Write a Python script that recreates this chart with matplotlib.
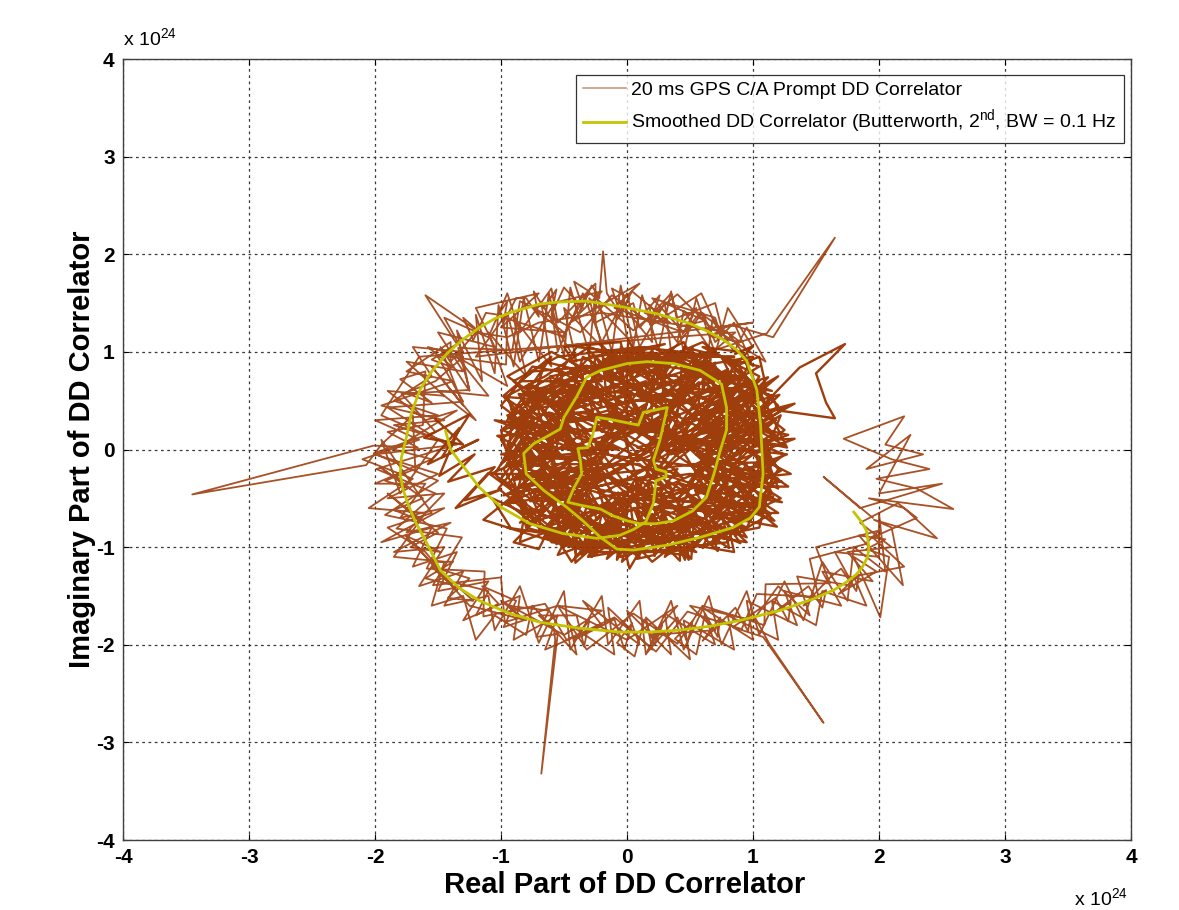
import numpy as np
import matplotlib
matplotlib.use("Agg")
import matplotlib.pyplot as plt
from matplotlib.lines import Line2D

plt.rcParams['font.family'] = ['Liberation Sans', 'DejaVu Sans']

# ---------------- data (units of 1e24) ----------------
smooth_pts = [
    (-1.44, 0.19), (-1.40, 0.00), (-1.33, -0.12), (-1.17, -0.39), (-1.00, -0.59),
    (-0.77, -0.76), (-0.51, -0.86), (-0.24, -0.91), (-0.06, -0.88), (0.05, -0.82),
    (0.15, -0.74), (0.21, -0.55), (0.23, -0.32), (0.31, -0.28), (0.31, -0.23),
    (0.23, -0.20), (0.21, -0.11), (0.26, 0.09), (0.29, 0.26), (0.32, 0.43),
    (0.13, 0.38), (0.09, 0.25), (-0.14, 0.31), (-0.24, 0.33), (-0.27, 0.16),
    (-0.31, 0.02), (-0.39, 0.01), (-0.37, -0.11), (-0.36, -0.25), (-0.42, -0.39),
    (-0.47, -0.54), (-0.37, -0.57), (-0.21, -0.61), (-0.11, -0.68), (0.00, -0.73),
    (0.10, -0.76), (0.23, -0.76), (0.37, -0.73), (0.52, -0.63), (0.63, -0.49),
    (0.69, -0.25), (0.74, -0.01), (0.79, 0.20), (0.79, 0.43), (0.75, 0.67),
    (0.58, 0.81), (0.37, 0.88), (0.16, 0.90), (0.00, 0.88), (-0.21, 0.81),
    (-0.32, 0.74), (-0.40, 0.54), (-0.50, 0.33), (-0.53, 0.21), (-0.64, 0.13),
    (-0.74, 0.06), (-0.82, -0.04), (-0.80, -0.25), (-0.66, -0.42), (-0.48, -0.59),
    (-0.35, -0.73), (-0.21, -0.90), (-0.08, -1.02), (0.05, -1.03), (0.32, -0.98),
    (0.58, -0.90), (0.84, -0.80), (0.98, -0.70), (1.05, -0.59), (1.08, -0.25),
    (1.07, 0.00), (1.06, 0.26), (1.03, 0.61), (0.95, 0.91), (0.87, 1.02),
    (0.77, 1.12), (0.64, 1.21), (0.50, 1.29), (0.24, 1.39), (-0.03, 1.46),
    (-0.32, 1.52), (-0.55, 1.51), (-0.69, 1.49), (-0.91, 1.41), (-1.05, 1.34),
    (-1.17, 1.25), (-1.31, 1.12), (-1.43, 0.98), (-1.55, 0.80), (-1.64, 0.62),
    (-1.71, 0.38), (-1.75, 0.13), (-1.79, -0.08), (-1.80, -0.25), (-1.78, -0.40),
    (-1.74, -0.55), (-1.68, -0.74), (-1.60, -0.93), (-1.48, -1.24), (-1.33, -1.42),
    (-1.17, -1.55), (-0.93, -1.68), (-0.69, -1.77), (-0.38, -1.83), (-0.06, -1.87),
    (0.18, -1.87), (0.42, -1.85), (0.66, -1.81), (0.90, -1.75), (1.21, -1.65),
    (1.48, -1.53), (1.64, -1.44), (1.74, -1.36), (1.82, -1.28), (1.87, -1.20),
    (1.91, -1.10), (1.92, -1.00), (1.90, -0.83), (1.86, -0.74), (1.80, -0.64),
]

trace_inner_arm = [
    (-1.52, 0.31), (-1.30, 0.05), (-1.61, 0.12), (-1.25, 0.36), (-1.47, -0.08),
    (-1.18, 0.10), (-1.58, -0.15), (-1.33, 0.22), (-1.49, -0.27), (-1.21, -0.05),
    (-1.42, -0.33), (-1.05, -0.18), (-1.29, -0.52), (-1.00, -0.41), (-1.36, -0.60),
    (-1.10, -0.24), (-0.88, -0.45), (-1.14, -0.72), (-0.92, -0.81), (-1.07, -0.50),
    (-0.80, -0.66), (-0.63, -0.60), (-0.90, -0.95), (-0.70, -1.02), (-0.58, -0.71),
    (-0.84, -0.58), (-0.61, -0.93), (-0.40, -0.70), (-0.55, -1.08), (-0.36, -0.99),
    (-0.62, -0.78), (-0.44, -1.15), (-0.15, -0.72), (-0.31, -1.10), (-0.09, -1.05),
    (-0.28, -0.76), (-0.12, -0.95), (0.03, -1.06), (-0.02, -0.70), (0.18, -0.92),
    (0.08, -0.61), (0.27, -0.83), (0.12, -0.58),
]

trace_core_a = [
    (1.27, -0.05), (0.66, 0.04), (1.06, 0.27), (0.42, 0.12), (1.05, 0.70), (0.57, 0.46),
    (0.57, 0.69), (0.27, 0.35), (0.31, 0.98), (0.12, 0.54), (-0.06, 0.93), (0.02, 0.22),
    (-0.36, 0.73), (-0.27, 0.39), (-0.78, 0.67), (-0.31, 0.19), (-0.84, 0.28), (-0.57, 0.07),
    (-1.00, -0.05), (-0.27, -0.12), (-0.80, -0.37), (-0.36, -0.31), (-0.80, -0.78), (-0.30, -0.52),
    (-0.42, -0.94), (-0.02, -0.43), (-0.08, -1.13), (0.12, -0.72), (0.29, -0.99), (0.29, -0.50),
    (0.72, -1.04), (0.60, -0.60), (0.96, -0.72), (0.51, -0.26), (1.11, -0.39), (0.71, -0.15),
]

trace_core_b = [
    (0.37, -0.03), (1.04, 0.18), (0.66, 0.19), (1.10, 0.60), (0.40, 0.22), (0.61, 0.61),
    (0.59, 0.90), (0.20, 0.23), (0.19, 0.66), (0.01, 1.13), (-0.01, 0.41), (-0.26, 0.72),
    (-0.08, 0.22), (-0.59, 0.62), (-0.41, 0.30), (-0.92, 0.41), (-0.07, 0.00), (-0.76, 0.02),
    (-0.43, -0.10), (-0.89, -0.31), (-0.15, -0.17), (-0.63, -0.55), (-0.30, -0.45), (-0.56, -0.97),
    (-0.07, -0.44), (-0.13, -0.92), (0.10, -0.29), (0.22, -1.09), (0.28, -0.62), (0.50, -0.83),
    (0.32, -0.32), (0.93, -0.82), (0.69, -0.43), (1.23, -0.54), (0.51, -0.15), (1.12, -0.13),
]

trace_core_c = [
    (0.90, -0.10), (1.33, 0.11), (0.57, 0.06), (1.01, 0.40), (0.22, -0.01), (0.68, 0.56),
    (0.70, 0.89), (0.31, 0.44), (0.27, 0.84), (0.10, 0.28), (-0.10, 0.98), (-0.14, 0.53),
    (-0.45, 0.81), (-0.09, 0.12), (-0.63, 0.48), (-0.42, 0.19), (-1.05, 0.30), (-0.34, -0.03),
    (-0.85, -0.10), (-0.54, -0.21), (-0.98, -0.47), (-0.20, -0.27), (-0.55, -0.62), (-0.54, -0.83),
    (-0.18, -0.55), (-0.28, -1.10), (0.07, -0.29), (0.10, -0.96), (0.19, -0.57), (0.49, -1.13),
    (0.45, -0.68), (0.78, -0.86), (0.41, -0.34), (1.12, -0.66), (0.66, -0.30), (1.16, -0.28),
]

trace_core_d = [
    (1.25, 0.04), (0.83, 0.12), (1.33, 0.47), (0.52, 0.20), (0.82, 0.59), (0.27, 0.11),
    (0.64, 0.94), (0.36, 0.68), (0.24, 0.90), (0.12, 0.28), (-0.15, 1.01), (-0.08, 0.42),
    (-0.40, 0.69), (-0.13, 0.22), (-0.83, 0.60), (-0.53, 0.25), (-0.86, 0.21), (-0.15, -0.03),
    (-0.95, -0.14), (-0.43, -0.20), (-0.71, -0.43), (-0.18, -0.27), (-0.63, -0.79), (-0.28, -0.63),
    (-0.36, -1.08), (0.02, -0.51), (0.07, -0.95), (0.18, -0.33), (0.46, -1.13), (0.43, -0.61),
    (0.72, -0.83), (0.54, -0.42), (1.17, -0.73), (0.88, -0.37), (1.23, -0.33), (0.65, -0.09),
]

trace_core_e = [
    (0.85, -0.05), (1.28, 0.15), (0.95, 0.24), (1.21, 0.56), (0.60, 0.35), (0.81, 0.75),
    (0.53, 0.65), (0.52, 1.04), (0.22, 0.61), (0.10, 0.95), (-0.04, 0.70), (-0.31, 1.02),
    (-0.20, 0.44), (-0.61, 0.75), (-0.59, 0.50), (-0.98, 0.54), (-0.56, 0.18), (-1.03, 0.14),
    (-0.75, -0.05), (-1.08, -0.25), (-0.46, -0.25), (-0.77, -0.53), (-0.47, -0.51), (-0.67, -0.92),
    (-0.30, -0.71), (-0.29, -1.08), (-0.01, -0.66), (0.10, -1.08), (0.23, -0.72), (0.51, -1.12),
    (0.53, -0.75), (0.90, -0.96), (0.64, -0.48), (1.10, -0.60), (0.85, -0.31), (1.30, -0.25),
]

trace_core_f = [
    (1.27, 0.02), (0.89, 0.12), (1.25, 0.42), (0.61, 0.25), (0.86, 0.63), (0.64, 0.62),
    (0.67, 1.04), (0.30, 0.56), (0.22, 0.96), (0.05, 0.72), (-0.20, 1.07), (-0.16, 0.48),
    (-0.54, 0.82), (-0.45, 0.46), (-0.86, 0.57), (-0.74, 0.30), (-0.99, 0.20), (-0.58, -0.02),
    (-0.93, -0.17), (-0.70, -0.29), (-0.97, -0.56), (-0.41, -0.43), (-0.66, -0.82), (-0.40, -0.78),
    (-0.41, -1.16), (-0.07, -0.77), (0.02, -1.22), (0.19, -0.84), (0.42, -1.14), (0.42, -0.68),
    (0.81, -1.01), (0.76, -0.69), (1.19, -0.79), (0.80, -0.38), (1.28, -0.38), (1.02, -0.15),
]

trace_core_g = [
    (0.30, 0.20), (-0.20, 0.62), (0.52, 0.70), (0.08, -0.12), (0.82, 0.30), (0.40, -0.52),
    (-0.30, -0.22), (0.02, 0.50), (-0.62, 0.30), (-0.10, -0.62), (0.62, -0.20), (0.92, -0.62),
    (0.22, -0.92), (-0.50, -0.70), (-0.82, -0.20), (-0.40, 0.12), (-0.70, 0.62), (0.00, 0.92),
    (0.60, 0.95), (1.02, 0.50), (0.70, 0.02), (1.12, -0.30), (0.50, -0.90), (-0.10, -1.02),
    (-0.60, -0.95), (-0.30, -0.40), (0.20, 0.00), (-0.20, 0.30), (0.40, 0.45), (0.90, 0.75),
    (0.30, 0.85), (-0.40, 0.85), (-0.90, 0.40), (-0.95, -0.10), (-0.60, -0.50), (0.00, -0.30),
    (0.50, 0.10), (1.15, 0.05), (0.85, -0.85), (0.10, -0.55), (-0.25, 0.05), (0.15, 0.35),
    (0.65, 0.55), (1.05, 0.85), (0.45, 1.05),
]

trace_core_h = [
    (0.05, 0.72), (-0.55, 0.48), (-0.15, -0.05), (0.35, -0.28), (0.75, -0.45), (0.25, -0.70),
    (-0.35, -0.85), (-0.72, -0.42), (-0.45, -0.12), (-0.85, 0.15), (-0.35, 0.45), (0.20, 0.60),
    (0.70, 0.85), (0.95, 0.20), (0.55, -0.05), (0.98, -0.35), (0.60, -0.72), (0.05, -0.82),
    (-0.20, -0.45), (0.15, -0.20), (0.45, 0.30), (0.80, 0.55), (0.35, 1.00), (-0.15, 0.88),
    (-0.60, 0.75), (-0.85, 0.55), (-0.55, 0.10), (-0.95, -0.35), (-0.70, -0.80), (-0.25, -1.05),
    (0.35, -1.05), (0.70, -0.95), (1.10, -0.55), (0.80, -0.10), (1.18, 0.30), (0.90, 0.60),
    (0.50, 0.62), (0.10, 0.15), (-0.30, 0.68), (-0.10, 1.00), (0.25, 0.40), (0.60, -0.35),
    (0.28, -0.50), (-0.05, -0.15), (-0.50, -0.30),
]

trace_core_i = [
    (-0.75, 0.05), (-0.40, -0.55), (0.10, -0.40), (-0.05, 0.25), (0.40, 0.02), (0.70, 0.40),
    (1.05, 0.10), (0.78, -0.25), (0.45, -0.75), (-0.05, -0.95), (-0.45, -0.95), (-0.80, -0.60),
    (-0.98, -0.20), (-0.62, 0.45), (-0.30, 0.95), (0.20, 1.05), (0.55, 0.80), (0.25, 0.25),
    (-0.35, 0.20), (-0.10, -0.35), (0.55, -0.55), (0.95, -0.80), (1.20, -0.20), (0.88, 0.40),
    (0.42, 0.62), (-0.08, 0.45), (-0.55, 0.72), (-0.80, 0.30), (-0.30, -0.05), (0.00, -0.70),
    (0.35, -0.92), (0.80, -0.55), (0.50, -0.15), (0.18, 0.12), (0.62, 0.22), (1.00, 0.65),
    (0.70, 1.00), (0.05, 0.85), (-0.45, 0.60), (-0.68, -0.15), (-0.25, -0.62), (0.30, -0.38),
    (0.02, 0.05), (-0.15, 0.50), (0.30, 0.75),
]

trace_core_j = [
    (0.85, 0.92), (1.10, 0.45), (0.65, -0.05), (0.95, -0.50), (0.40, -0.35), (0.15, -0.78),
    (-0.30, -0.55), (-0.65, -0.70), (-0.92, -0.45), (-0.55, -0.05), (-0.88, 0.28), (-0.50, 0.60),
    (-0.10, 0.78), (0.40, 0.92), (0.75, 0.62), (0.45, 0.20), (0.05, -0.05), (-0.35, -0.30),
    (-0.05, -1.00), (0.45, -1.08), (0.75, -0.70), (1.15, -0.45), (1.00, 0.00), (0.60, 0.45),
    (0.15, 0.55), (-0.25, 0.85), (-0.75, 0.80), (-0.98, 0.55), (-0.70, 0.15), (-0.20, 0.20),
    (0.30, -0.10), (0.10, -0.45), (-0.45, -0.78), (-0.85, -0.05), (-0.40, 0.38), (0.10, 0.30),
    (0.55, 0.55), (0.95, 0.35), (0.70, -0.40), (0.20, -0.60), (-0.15, -0.25), (0.25, 0.05),
    (0.80, 0.10), (0.35, 0.65), (-0.05, 1.05),
]

trace_core_k = [
    (-0.60, 1.00), (-0.95, 0.75), (-0.45, 0.30), (0.05, 0.40), (-0.25, -0.15), (-0.65, -0.30),
    (-0.35, -0.70), (0.15, -0.95), (0.60, -0.85), (0.90, -0.30), (0.50, -0.25), (0.20, -0.30),
    (0.55, 0.35), (0.95, 0.55), (1.15, 0.15), (0.75, -0.15), (0.30, 0.15), (-0.05, 0.60),
    (0.45, 0.80), (0.80, 0.75), (0.25, 0.95), (-0.40, 1.05), (-0.70, 0.45), (-1.00, 0.10),
    (-0.80, -0.35), (-0.40, -1.00), (0.05, -0.60), (0.40, -0.60), (1.00, -0.70), (0.65, -0.50),
    (0.30, -0.85), (-0.20, -0.80), (-0.55, -0.45), (-0.15, 0.05), (0.35, 0.40), (0.00, 0.70),
    (-0.35, 0.55), (-0.80, 0.65), (-0.60, 0.25), (-0.10, 0.35), (0.40, -0.05), (0.85, 0.30),
    (1.05, 0.75), (0.60, 1.05), (0.90, 1.00),
]

trace_core_l = [
    (1.10, -0.05), (0.75, 0.70), (1.15, 0.60), (0.40, 0.95), (0.85, 0.95), (-0.05, 0.95),
    (0.30, 1.08), (-0.45, 0.90), (-0.20, 0.70), (-0.85, 0.70), (-0.60, 0.95), (-0.95, 0.30),
    (-0.70, 0.55), (-1.00, -0.15), (-0.75, 0.10), (-0.90, -0.55), (-0.65, -0.20), (-0.70, -0.85),
    (-0.95, -0.80), (-0.30, -1.05), (-0.55, -0.60), (0.10, -1.10), (-0.15, -0.85), (0.55, -1.05),
    (0.30, -0.80), (0.95, -0.95), (0.70, -0.65), (1.20, -0.65), (0.90, -0.40), (1.25, -0.05),
    (0.95, 0.10), (1.20, 0.45), (0.90, 0.80), (0.60, 1.10), (0.15, 0.85), (-0.30, 1.05),
    (-0.65, 0.75), (-0.95, 0.55), (-0.80, -0.05), (-1.02, -0.40), (-0.50, -0.95), (0.05, -0.95),
    (0.65, -0.90), (1.05, -0.80), (1.15, -0.30),
]

trace_core_m = [
    (0.95, 0.50), (1.25, 0.20), (0.85, -0.20), (1.22, -0.50), (0.80, -0.75), (0.85, -1.05),
    (0.40, -0.95), (0.20, -1.15), (-0.10, -0.75), (-0.40, -1.10), (-0.45, -0.75), (-0.85, -0.95),
    (-0.80, -0.55), (-1.05, -0.25), (-0.80, 0.25), (-1.00, 0.45), (-0.75, 0.85), (-0.35, 0.75),
    (-0.50, 1.05), (-0.05, 1.10), (0.00, 0.80), (0.45, 1.10), (0.55, 0.85), (1.00, 0.95),
    (0.80, 0.45), (1.20, 0.75), (0.70, 0.20), (0.30, -0.20), (-0.20, 0.10), (0.15, 0.70),
    (-0.55, 0.40), (-0.25, -0.40), (0.45, -0.60), (0.10, -0.15), (-0.60, -0.15), (-0.35, 0.95),
    (0.25, 0.50), (0.70, -0.25), (0.40, 0.30), (-0.15, -0.95), (-0.70, -0.65), (-0.95, 0.05),
    (-0.65, 0.60), (0.05, 1.00), (0.65, 0.95),
]

trace_core_n = [
    (-0.85, -0.75), (-0.20, -0.20), (0.60, 0.70), (1.10, 0.20), (0.20, -0.70), (-0.55, 0.20),
    (-0.15, 0.95), (0.75, 0.30), (0.30, -0.95), (-0.75, -0.35), (0.05, 0.25), (0.95, -0.15),
    (0.55, -0.95), (-0.35, -0.80), (-0.95, 0.35), (-0.25, 0.55), (0.45, 0.05), (1.20, -0.40),
    (0.85, 0.80), (0.10, 0.65), (-0.65, 0.90), (-0.90, -0.15), (-0.10, -0.50), (0.70, -0.55),
    (1.15, 0.55), (0.35, 0.90), (-0.45, 0.45), (-0.05, -1.10), (0.90, -0.70), (0.60, 0.10),
    (-0.30, 0.30), (-0.75, 0.60), (-0.50, -0.45), (0.25, -0.25), (0.95, 0.70), (0.50, 0.40),
    (-0.10, 0.10), (-0.60, -0.90), (0.15, -1.05), (0.80, -0.95),
]

trace_core_o = [
    (1.22, 0.35), (0.55, -0.15), (0.95, -0.90), (0.05, -0.40), (-0.50, -1.00), (-0.95, -0.55),
    (-0.40, -0.25), (-0.85, 0.45), (-0.30, 0.80), (0.50, 1.00), (0.90, 0.45), (0.35, -0.05),
    (-0.15, 0.40), (-0.70, 0.20), (-1.00, -0.30), (-0.60, -0.65), (0.00, -0.85), (0.65, -0.75),
    (1.15, -0.10), (0.75, 0.95), (0.10, 1.05), (-0.55, 0.95), (-0.90, 0.70), (-0.40, 0.05),
    (0.25, 0.30), (0.80, -0.35), (0.40, -0.80), (-0.25, -1.00), (-0.80, -0.80), (-1.00, 0.20),
    (-0.50, 0.65), (0.15, 0.55), (0.70, 0.60), (1.05, 0.30), (0.45, -0.40), (-0.20, -0.60),
    (-0.70, -0.10), (-0.20, 0.85), (0.40, 0.75), (1.00, -0.55),
]

trace_core = [
    (0.35, -0.60), (0.09, -0.45), (0.30, -0.38), (0.14, -0.66), (0.40, -0.20),
    (0.12, -0.30), (0.36, -0.41), (0.19, -0.14), (0.44, -0.29), (0.25, -0.05),
    (0.08, 0.02), (0.38, 0.12), (0.15, -0.20), (0.33, 0.24), (0.11, 0.15),
    (0.42, 0.35), (0.20, 0.52), (0.45, 0.58), (0.24, 0.30), (0.38, 0.49),
    (0.05, 0.50), (0.18, 0.22), (-0.02, 0.33), (0.14, 0.46), (0.00, 0.14),
    (-0.10, 0.45), (-0.20, 0.18), (-0.33, 0.42), (-0.15, 0.26), (-0.29, 0.21),
    (-0.40, 0.12), (-0.18, 0.05), (-0.45, -0.08), (-0.24, -0.04), (-0.50, 0.10),
    (-0.33, -0.13), (-0.26, -0.20), (-0.49, -0.30), (-0.30, -0.36), (-0.47, -0.18),
    (-0.22, -0.31), (-0.56, -0.45), (-0.35, -0.50), (-0.58, -0.62), (-0.40, -0.66),
    (-0.53, -0.37), (-0.30, -0.48), (-0.24, -0.72), (-0.15, -0.55), (-0.05, -0.80),
    (-0.18, -0.64), (0.06, -0.62), (0.14, -0.87), (0.20, -0.66), (0.31, -0.90),
    (0.27, -0.69), (0.44, -0.85), (0.40, -0.60), (0.58, -0.76), (0.50, -0.50),
    (0.64, -0.68), (0.74, -0.55), (0.55, -0.40), (0.72, -0.36), (0.60, -0.58),
    (0.81, -0.30), (0.58, -0.18), (0.79, -0.12), (0.62, -0.32), (0.85, -0.20),
    (0.63, 0.05), (0.88, 0.04), (0.70, -0.10), (0.86, 0.15), (0.65, 0.12),
    (0.92, 0.24), (0.68, 0.30), (0.90, 0.36), (0.72, 0.18), (0.95, 0.30),
    (0.67, 0.48), (0.91, 0.52), (0.70, 0.38), (0.88, 0.62), (0.66, 0.58),
    (0.86, 0.74), (0.63, 0.72), (0.80, 0.82), (0.60, 0.64), (0.66, 0.92),
    (0.50, 0.72), (0.55, 0.95), (0.44, 0.80), (0.62, 0.86), (0.40, 1.00),
    (0.30, 0.77), (0.34, 0.98), (0.25, 0.82), (0.20, 1.02), (0.09, 0.80),
    (0.14, 1.05), (0.04, 0.86), (0.22, 0.95), (-0.06, 1.01), (-0.03, 0.76),
    (-0.12, 0.96), (0.05, 0.78), (-0.18, 0.93), (-0.28, 0.71), (-0.25, 0.95),
    (-0.14, 0.70), (-0.32, 0.86), (-0.42, 0.80), (-0.24, 0.62), (-0.45, 0.66),
    (-0.30, 0.58), (-0.52, 0.60), (-0.31, 0.45), (-0.49, 0.43), (-0.36, 0.66),
    (-0.55, 0.50), (-0.40, 0.30), (-0.62, 0.38), (-0.45, 0.19), (-0.64, 0.24),
    (-0.42, 0.10), (-0.70, 0.20), (-0.58, 0.02), (-0.80, 0.14), (-0.66, -0.04),
    (-0.85, 0.08), (-0.92, -0.06), (-0.72, -0.10), (-0.88, 0.02), (-0.75, -0.18),
    (-0.91, -0.30), (-0.70, -0.22), (-0.87, -0.40), (-0.68, -0.35), (-0.76, -0.52),
    (-0.58, -0.33), (-0.72, -0.36), (-0.55, -0.50), (-0.60, -0.65), (-0.42, -0.48),
    (-0.56, -0.72), (-0.38, -0.62), (-0.45, -0.85), (-0.27, -0.66), (-0.42, -0.78),
    (-0.24, -0.82), (-0.30, -0.98), (-0.14, -0.82), (-0.26, -1.08), (-0.10, -0.93),
    (-0.16, -1.12), (0.00, -0.94), (-0.04, -1.15), (0.12, -0.96), (0.08, -1.12),
    (0.22, -1.08), (0.36, -0.88), (0.30, -1.10), (0.45, -0.95), (0.52, -1.02),
    (0.66, -0.82), (0.60, -1.01), (0.72, -0.90), (0.80, -0.92), (0.92, -0.70),
    (0.86, -0.88), (0.98, -0.78), (1.14, -0.66), (0.98, -0.50), (1.16, -0.48),
    (0.96, -0.62), (1.20, -0.30), (0.97, -0.20), (1.18, -0.12), (1.00, -0.35),
    (1.22, -0.22), (0.96, 0.15), (1.18, 0.30), (0.99, 0.38), (1.20, 0.12),
    (0.95, 0.28), (1.37, 0.84), (1.73, 1.08), (1.50, 0.78), (1.58, 0.48),
    (1.65, 0.32), (1.20, 0.40), (1.15, 0.55), (0.92, 0.66), (1.12, 0.74),
    (0.94, 0.50), (1.10, 0.66), (1.05, 0.95), (0.85, 0.85), (1.00, 1.06),
    (0.86, 0.98),
]

trace_top_band = [
    (1.00, 1.05), (0.80, 1.45), (0.70, 0.98), (0.55, 1.55), (0.45, 1.00), (0.35, 1.62),
    (0.25, 1.02), (0.12, 1.58), (0.05, 1.05), (-0.05, 1.68), (-0.12, 1.00), (-0.25, 1.62),
    (-0.30, 0.98), (-0.45, 1.66), (-0.50, 0.95), (-0.62, 1.60), (-0.70, 0.90), (-0.82, 1.55),
    (-0.90, 0.85), (-1.02, 1.48), (-1.05, 0.78), (-1.20, 1.38), (-1.15, 0.70), (-1.35, 1.22),
    (-1.25, 0.60), (-1.48, 1.05), (-1.30, 0.45), (-1.55, 0.85), (-1.20, 0.30), (-1.50, 0.60),
    (-1.10, 0.55), (-1.35, 0.95), (-0.95, 0.65), (-1.10, 1.20), (-0.80, 0.75), (-0.90, 1.35),
    (-0.60, 0.85), (-0.68, 1.50), (-0.40, 0.90), (-0.50, 1.45), (-0.20, 1.05), (-0.30, 1.55),
    (0.00, 1.15), (-0.05, 1.50), (0.20, 1.10), (0.18, 1.48), (0.40, 1.10), (0.45, 1.42),
    (0.65, 1.05), (0.68, 1.35), (0.85, 1.00), (0.95, 1.25), (1.10, 0.90),
]

trace_ring_g = [
    (0.65, 1.27), (0.40, 1.59), (0.05, 1.22), (-0.31, 1.62), (-0.51, 1.16), (-0.95, 1.34),
    (-0.96, 0.87), (-1.51, 0.97), (-1.30, 0.49), (-1.90, 0.43), (-1.41, 0.03), (-1.99, -0.20),
    (-1.52, -0.45), (-1.83, -0.81), (-1.31, -0.90), (-1.54, -1.39), (-1.00, -1.31), (-0.97, -1.77),
    (-0.55, -1.60), (-0.32, -2.05), (0.05, -1.68), (0.40, -1.99), (0.60, -1.60), (1.09, -1.80),
    (1.10, -1.38), (1.61, -1.37), (1.50, -1.00), (2.00, -0.83),
]

trace_ring_h = [
    (1.89, -0.97), (1.45, -1.12), (1.52, -1.51), (1.03, -1.48), (0.91, -1.84), (0.48, -1.66),
    (0.23, -2.07), (-0.10, -1.72), (-0.48, -1.95), (-0.65, -1.58), (-1.14, -1.71), (-1.13, -1.25),
    (-1.59, -1.22), (-1.43, -0.81), (-1.92, -0.67), (-1.50, -0.32), (-2.01, -0.04), (-1.52, 0.18),
    (-1.79, 0.57), (-1.25, 0.61), (-1.34, 1.04), (-0.91, 1.02), (-0.85, 1.52), (-0.37, 1.20),
    (-0.12, 1.58), (0.20, 1.28), (0.59, 1.60), (0.75, 1.15),
]

trace_ring_i = [
    (0.70, 1.35), (0.20, 1.55), (0.45, 1.20), (-0.10, 1.45), (0.10, 1.70), (-0.45, 1.30),
    (-0.20, 1.62), (-0.75, 1.45), (-0.50, 1.20), (-1.00, 1.25), (-0.70, 1.60), (-1.20, 1.45),
    (-1.05, 1.05), (-1.50, 1.20), (-1.30, 0.80), (-1.75, 0.90), (-1.45, 0.55), (-1.90, 0.60),
    (-1.60, 0.30), (-1.35, 0.40), (-1.85, 0.00), (-1.55, -0.10), (-2.00, -0.35), (-1.60, -0.35),
    (-1.80, -0.70), (-1.45, -0.60), (-1.95, -0.95), (-1.55, -0.80), (-1.70, -1.20), (-1.35, -1.05),
    (-1.50, -1.45), (-1.10, -1.35), (-1.30, -1.75), (-0.85, -1.50), (-0.90, -1.95), (-0.55, -1.70),
    (-0.65, -2.05), (-0.20, -1.80), (-0.35, -1.55), (0.10, -2.00), (0.00, -1.65), (0.35, -2.10),
    (0.30, -1.68), (0.70, -2.00), (0.60, -1.62), (1.00, -1.95), (0.95, -1.55), (1.35, -1.80),
    (1.25, -1.45), (1.70, -1.60), (1.55, -1.25), (1.95, -1.35), (1.75, -1.05), (2.10, -1.00),
    (1.85, -0.75), (2.15, -0.55),
]

trace_ring_j = [
    (2.30, -0.70), (1.95, -0.90), (2.20, -1.20), (1.80, -1.30), (1.90, -1.60), (1.55, -1.45),
    (1.50, -1.80), (1.15, -1.55), (1.20, -1.95), (0.80, -1.70), (0.85, -2.05), (0.45, -1.75),
    (0.50, -2.15), (0.15, -1.72), (0.20, -2.05), (-0.15, -1.62), (-0.10, -2.10), (-0.45, -1.80),
    (-0.40, -2.10), (-0.75, -1.60), (-0.80, -1.90), (-1.05, -1.70), (-1.20, -1.95), (-1.30, -1.50),
    (-1.55, -1.60), (-1.45, -1.15), (-1.85, -1.10), (-1.60, -0.65), (-2.05, -0.60), (-1.70, -0.30),
    (-2.10, -0.10), (-1.65, 0.10), (-2.00, 0.30), (-1.50, 0.35), (-1.85, 0.50), (-1.55, 0.75),
    (-1.70, 1.05), (-1.30, 1.00), (-1.45, 1.35), (-1.10, 1.15), (-0.95, 1.60), (-0.85, 1.20),
    (-0.60, 1.65), (-0.55, 1.30), (-0.25, 1.70), (-0.25, 1.30), (0.05, 1.50), (0.10, 1.25),
    (0.35, 1.60), (0.40, 1.35), (0.70, 1.50), (0.75, 1.25), (1.00, 1.30),
]

trace_ring_k = [
    (-1.20, 0.95), (-0.95, 1.40), (-0.85, 0.90), (-0.60, 1.45), (-0.55, 1.00), (-0.35, 1.60),
    (-0.20, 1.10), (0.00, 1.60), (0.10, 1.05), (0.30, 1.50), (0.35, 1.00), (0.60, 1.40),
    (0.70, 1.10), (0.85, 1.30), (1.00, 0.85), (0.80, 1.20), (0.55, 1.25), (0.30, 1.30),
    (0.05, 1.35), (-0.20, 1.40), (-0.45, 1.35), (-0.70, 1.30), (-0.95, 1.15), (-1.20, 1.20),
    (-1.40, 0.90),
]

trace_left_bottom_band = [
    (-1.40, 1.10), (-1.75, 0.80), (-1.38, 0.70), (-1.95, 0.45), (-1.45, 0.30), (-1.85, 0.25),
    (-1.35, 0.05), (-2.00, -0.05), (-1.50, -0.25), (-1.90, -0.50), (-1.45, -0.45), (-1.75, -0.85),
    (-1.40, -0.75), (-1.85, -1.05), (-1.45, -1.00), (-1.65, -1.40), (-1.30, -1.25), (-1.45, -1.60),
    (-1.10, -1.50), (-1.05, -1.85), (-0.85, -1.40), (-0.70, -1.98), (-0.50, -1.45), (-0.45, -2.05),
    (-0.20, -1.50), (-0.15, -2.00), (0.10, -1.55), (0.15, -2.10), (0.35, -1.55), (0.45, -2.05),
    (0.65, -1.50), (0.75, -2.00), (0.95, -1.45), (1.05, -1.90), (1.25, -1.35), (1.40, -1.75),
    (1.55, -1.15), (1.75, -1.55), (1.80, -1.00), (2.05, -1.25), (2.00, -0.65),
]

trace_ring_l = [
    (2.00, -1.10), (1.65, -1.05), (1.80, -1.40), (1.35, -1.30), (1.45, -1.70), (1.20, -1.40),
    (1.00, -1.75), (0.50, -1.60), (0.70, -1.85), (0.20, -1.90), (0.40, -1.60), (0.00, -1.95),
    (-0.55, -1.60), (-0.20, -1.65), (-0.50, -1.90), (-1.00, -1.55), (-0.80, -1.75), (-1.25, -1.60),
    (-1.70, -0.95), (-1.35, -1.45), (-1.60, -1.05), (-1.90, -0.80), (-1.55, -0.65), (-1.95, 0.10),
    (-1.80, -0.45), (-1.50, 0.10), (-1.95, 0.35), (-1.65, 0.95),
]

trace_outer = [
    (0.86, 1.20), (0.70, 1.02), (1.11, 1.19), (1.65, 2.17), (1.16, 1.15),
    (0.82, 1.28), (0.66, 1.16), (0.90, 1.10), (0.58, 1.40), (0.44, 1.18),
    (0.55, 1.45), (0.40, 1.25), (0.62, 1.32), (0.30, 1.50), (0.18, 1.28),
    (0.26, 1.58), (0.14, 1.40), (0.34, 1.30), (0.04, 1.62), (-0.08, 1.33),
    (0.02, 1.55), (-0.12, 1.65), (-0.05, 1.38), (-0.16, 1.60), (-0.19, 2.03),
    (-0.22, 1.55), (-0.28, 1.68), (-0.38, 1.40), (-0.30, 1.62), (-0.42, 1.72),
    (-0.35, 1.45), (-0.50, 1.66), (-0.60, 1.38), (-0.56, 1.64), (-0.66, 1.45),
    (-0.74, 1.62), (-0.70, 1.36), (-0.80, 1.55), (-0.88, 1.55), (-0.98, 1.30),
    (-0.95, 1.52), (-1.02, 1.38), (-1.12, 1.40), (-1.22, 1.12), (-1.30, 1.35),
    (-1.15, 1.18), (-1.60, 1.58), (-1.35, 1.08), (-1.55, 0.92), (-1.38, 0.84),
    (-1.58, 1.05), (-1.30, 0.95), (-1.52, 0.70), (-1.76, 0.58), (-1.55, 0.48),
    (-1.80, 0.72), (-1.60, 0.80), (-1.62, 0.25), (-1.90, 0.18), (-1.66, 0.02),
    (-2.01, 0.04), (-3.45, -0.46), (-2.07, -0.16), (-1.95, 0.05), (-1.70, 0.35),
    (-1.68, -0.20), (-1.92, -0.32), (-1.72, -0.40), (-1.96, -0.18), (-1.62, -0.50),
    (-1.85, -0.62), (-1.65, -0.72), (-1.90, -0.45), (-1.50, -0.85), (-1.72, -1.00),
    (-1.48, -1.05), (-1.76, -0.88), (-1.56, -1.15), (-1.38, -1.15), (-1.60, -1.32),
    (-1.40, -1.38), (-1.55, -1.20), (-1.25, -1.32), (-1.42, -1.52), (-1.22, -1.55),
    (-1.38, -1.36), (-1.10, -1.45), (-1.20, -1.70), (-1.02, -1.58), (-1.15, -1.40),
    (-0.88, -1.55), (-0.98, -1.82), (-0.82, -1.75), (-0.95, -1.60), (-0.62, -1.65),
    (-0.72, -1.92), (-0.55, -1.89), (-0.68, -3.32), (-0.57, -1.95), (-0.58, -1.84),
    (-0.70, -1.70), (-0.40, -1.70), (-0.34, -2.02), (-0.30, -1.75), (-0.42, -1.95),
    (-0.10, -1.74), (-0.02, -2.05), (0.04, -1.78), (-0.08, -1.98), (0.06, -2.12),
    (0.14, -1.74), (0.22, -2.00), (0.28, -1.80), (0.16, -2.08), (0.40, -1.72),
    (0.48, -1.98), (0.52, -1.76), (0.38, -1.94), (0.55, -2.10), (0.62, -1.68),
    (0.72, -1.92), (0.74, -1.72), (0.60, -1.96), (0.86, -1.62), (0.96, -1.86),
    (0.99, -1.66), (1.13, -1.99), (1.56, -2.80), (1.08, -1.92), (0.84, -1.82),
    (1.18, -1.52), (1.28, -1.76), (1.30, -1.56), (1.14, -1.70), (1.44, -1.40),
    (1.55, -1.62), (1.58, -1.44), (1.40, -1.60), (1.62, -1.30), (1.70, -1.22),
    (1.82, -1.45), (1.84, -1.28), (1.68, -1.48), (1.98, -1.25), (1.80, -1.10),
    (2.01, -1.72), (2.08, -1.10), (1.90, -1.02), (2.05, -0.92), (1.84, -0.88),
    (2.19, -1.39), (2.10, -0.80), (1.96, -0.72), (2.46, -0.91), (2.20, -0.60),
    (1.92, -0.50), (2.59, -0.61), (2.30, -0.40), (1.98, -0.30), (2.40, -0.20),
    (2.10, -0.10), (1.72, 0.11), (2.20, 0.34), (2.05, 0.05), (2.35, -0.05),
    (1.90, -0.20), (2.25, 0.15), (2.00, -0.45), (2.50, -0.35), (1.85, -0.60),
    (1.56, -0.28), (1.95, -0.70),
]

x_ticks = [-4, -3, -2, -1, 0, 1, 2, 3, 4]
y_ticks = [-4, -3, -2, -1, 0, 1, 2, 3, 4]
legend_labels = ["20 ms GPS C/A Prompt DD Correlator",
                 "Smoothed DD Correlator (Butterworth, 2$^{\\mathregular{nd}}$, BW = 0.1 Hz"]

raw_core = np.array(trace_inner_arm + trace_core_a + trace_core_g + trace_core_b
                    + trace_core_h + trace_core_c + trace_core_i + trace_core_d
                    + trace_core_j + trace_core_e + trace_core_k + trace_core_f
                    + trace_core_l + trace_core_m + trace_core_n + trace_core_o
                    + trace_core)
raw_ring = np.array(trace_core[-1:] + trace_top_band + trace_ring_g + trace_ring_h
                    + trace_ring_i + trace_ring_j + trace_ring_k + trace_left_bottom_band
                    + trace_ring_l + trace_outer)
smooth = np.array(smooth_pts)

# ---------------- figure ----------------
fig = plt.figure(figsize=(11.79, 9.10), dpi=100)
ax = fig.add_axes([123/1179, 1-840/910, 1008/1179, 781/910])

brown = '#993300'
ax.plot(raw_core[:, 0], raw_core[:, 1], color=brown, lw=1.7, alpha=0.95, zorder=2)
ax.plot(raw_ring[:, 0], raw_ring[:, 1], color=brown, lw=1.3, alpha=0.85, zorder=2)
ax.plot(smooth[:, 0], smooth[:, 1], color='#c4c400', lw=2.0, zorder=3)

ax.set_xlim(-4, 4)
ax.set_ylim(-4, 4)
ax.set_xticks(x_ticks)
ax.set_yticks(y_ticks)
ax.set_xticklabels([str(t) for t in x_ticks], fontsize=15, fontweight='bold')
ax.set_yticklabels([str(t) for t in y_ticks], fontsize=15, fontweight='bold')
ax.tick_params(direction='in', length=4, width=0.8, top=True, right=True, pad=6, colors='black')
ax.grid(True, color='#3a3a3a', linestyle=(0, (2.2, 2.8)), lw=0.9)
for s in ax.spines.values():
    s.set_color('#404040')
    s.set_linewidth(1.0)

fig.text(625/1179, 1-885/910, "Real Part of DD Correlator", ha='center', va='center',
         fontsize=21, fontweight='bold')
fig.text(82/1179, 1-449/910, "Imaginary Part of DD Correlator", ha='center', va='center',
         rotation=90, fontsize=21, fontweight='bold')

ax.text(0.0, 1.012, "x 10$^{\\mathregular{24}}$", transform=ax.transAxes, ha='left', va='bottom', fontsize=14)
ax.text(0.943, -0.075, "x 10$^{\\mathregular{24}}$", transform=ax.transAxes, ha='left', va='center', fontsize=14)

handles = [Line2D([], [], color=brown, lw=1.1, alpha=0.55),
           Line2D([], [], color='#c4c400', lw=2.0)]
leg = ax.legend(handles, legend_labels, loc='upper right', bbox_to_anchor=(0.993, 0.98),
                fontsize=14, frameon=True, fancybox=False, handlelength=2.2, handletextpad=0.3,
                borderpad=0.35, labelspacing=0.45, borderaxespad=0)
leg.get_frame().set_edgecolor('black')
leg.get_frame().set_linewidth(0.9)

fig.savefig('out.png', dpi=100, facecolor='white')
